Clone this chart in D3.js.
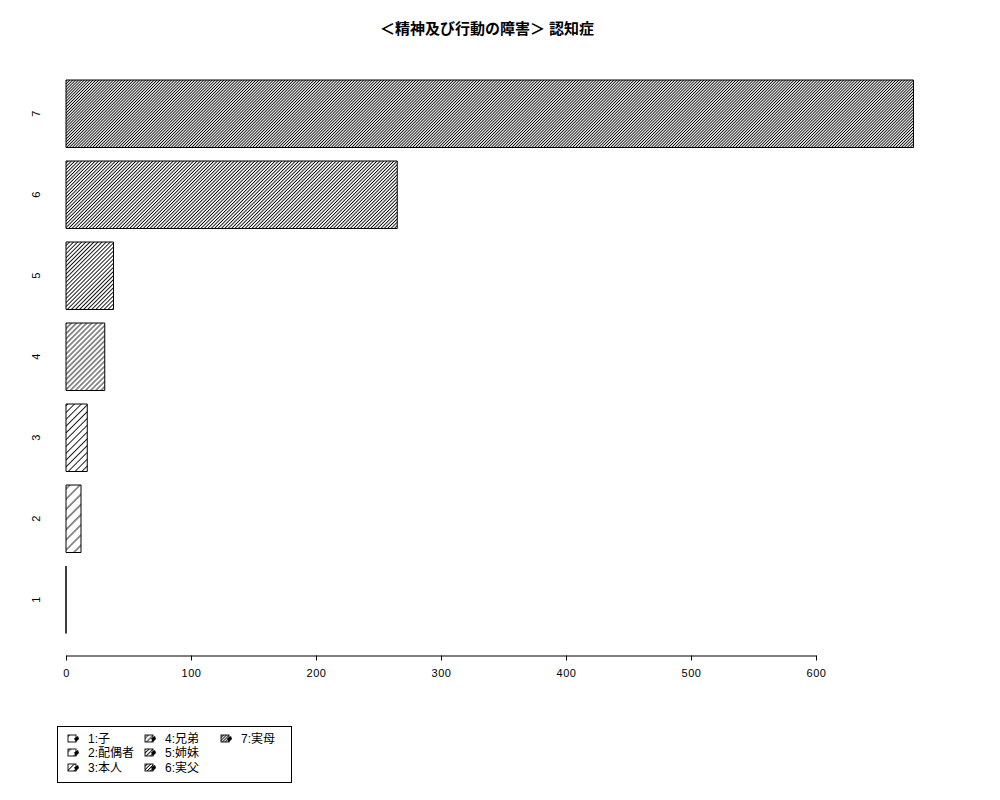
<!DOCTYPE html>
<html>
<head>
<meta charset="utf-8">
<script src="https://cdn.jsdelivr.net/npm/d3@7"></script>
<style>
  body { margin: 0; background: #fff; }
  text { font-family: "Liberation Sans", "Noto Sans CJK JP", sans-serif; }
</style>
</head>
<body>
<div id="chart"></div>
<script>
const categories = ["1", "2", "3", "4", "5", "6", "7"];
const values = [0, 12, 17, 31, 38, 265, 678];
const legendLabels = ["1:子", "2:配偶者", "3:本人", "4:兄弟", "5:姉妹", "6:実父", "7:実母"];
const hatchDensity = [5, 10, 15, 20, 25, 30, 35]; // lines per inch, like R
const xTicks = [0, 100, 200, 300, 400, 500, 600];
const title = "＜精神及び行動の障害＞ 認知症";

const W = 1000, H = 800;

const svg = d3.select("#chart").append("svg")
    .attr("width", W)
    .attr("height", H);

// hatch patterns, one per bar
const defs = svg.append("defs");
hatchDensity.forEach((d, i) => {
    const gap = 72 / d;
    defs.append("pattern")
        .attr("id", "hatch" + i)
        .attr("patternUnits", "userSpaceOnUse")
        .attr("width", gap)
        .attr("height", 20)
        .attr("patternTransform", "rotate(45)")
      .append("line")
        .attr("x1", gap / 2).attr("x2", gap / 2)
        .attr("y1", 0).attr("y2", 20)
        .attr("stroke", "#000")
        .attr("stroke-width", 0.9);
});

const x = d3.scaleLinear()
    .domain([0, 600])
    .range([66, 816]);

const y = d3.scaleBand()
    .domain(categories)
    .range([633.5, 80])
    .paddingInner(1 / 6)
    .paddingOuter(0);

// title
svg.append("text")
    .attr("x", 487)
    .attr("y", 34)
    .attr("text-anchor", "middle")
    .attr("font-size", 15)
    .attr("font-weight", "bold")
    .text(title);

// bars
svg.append("g").selectAll("g")
    .data(values)
    .join("g")
    .each(function(v, i) {
        const g = d3.select(this);
        const rx = x(0), rw = x(v) - x(0);
        const ry = y(categories[i]), rh = y.bandwidth();
        g.append("rect")
            .attr("x", rx).attr("y", ry)
            .attr("width", rw).attr("height", rh)
            .attr("fill", "url(#hatch" + i + ")");
        // outline as a path so a zero-width bar still shows its edge
        g.append("path")
            .attr("d", `M${rx},${ry}H${rx + rw}V${ry + rh}H${rx}Z`)
            .attr("fill", "none")
            .attr("stroke", "#000")
            .attr("stroke-width", 1);
    });

// category labels, rotated like R's las=0 on the left side
svg.append("g").selectAll("text")
    .data(categories)
    .join("text")
    .attr("transform", d => "translate(40," + (y(d) + y.bandwidth() / 2) + ") rotate(-90)")
    .attr("text-anchor", "middle")
    .attr("font-size", 11)
    .text(d => d);

// x axis
const xAxis = d3.axisBottom(x)
    .tickValues(xTicks)
    .tickSize(5)
    .tickPadding(9)
    .tickSizeOuter(0);

const axG = svg.append("g")
    .attr("transform", "translate(0,655.5)")
    .call(xAxis);
axG.select(".domain").attr("stroke", "#000");
axG.selectAll(".tick line").attr("stroke", "#000");
axG.selectAll(".tick text")
    .attr("font-size", 11)
    .attr("font-family", "Liberation Sans, sans-serif")
    .attr("letter-spacing", 0.5)
    .attr("fill", "#000");

// legend
const legend = svg.append("g");
legend.append("rect")
    .attr("x", 57.5).attr("y", 726.5)
    .attr("width", 234).attr("height", 56)
    .attr("fill", "none")
    .attr("stroke", "#000");

const colX = [68, 145, 221];
const rowY = [739, 753, 768];
legendLabels.forEach((lab, i) => {
    const c = Math.floor(i / 3), r = i % 3;
    const bx = colX[c], by = rowY[r] - 4;
    legend.append("rect")
        .attr("x", bx).attr("y", by)
        .attr("width", 8).attr("height", 7)
        .attr("fill", "url(#hatch" + i + ")")
        .attr("stroke", "#000")
        .attr("stroke-width", 0.9);
    legend.append("path")
        .attr("d", `M${bx + 6},${by + 3.5} L${bx + 10},${by + 1} L${bx + 11},${by + 4} L${bx + 8},${by + 7} Z`)
        .attr("fill", "#000");
    legend.append("text")
        .attr("x", bx + 20)
        .attr("y", rowY[r] + 4)
        .attr("font-size", 12)
        .text(lab);
});
</script>
</body>
</html>
